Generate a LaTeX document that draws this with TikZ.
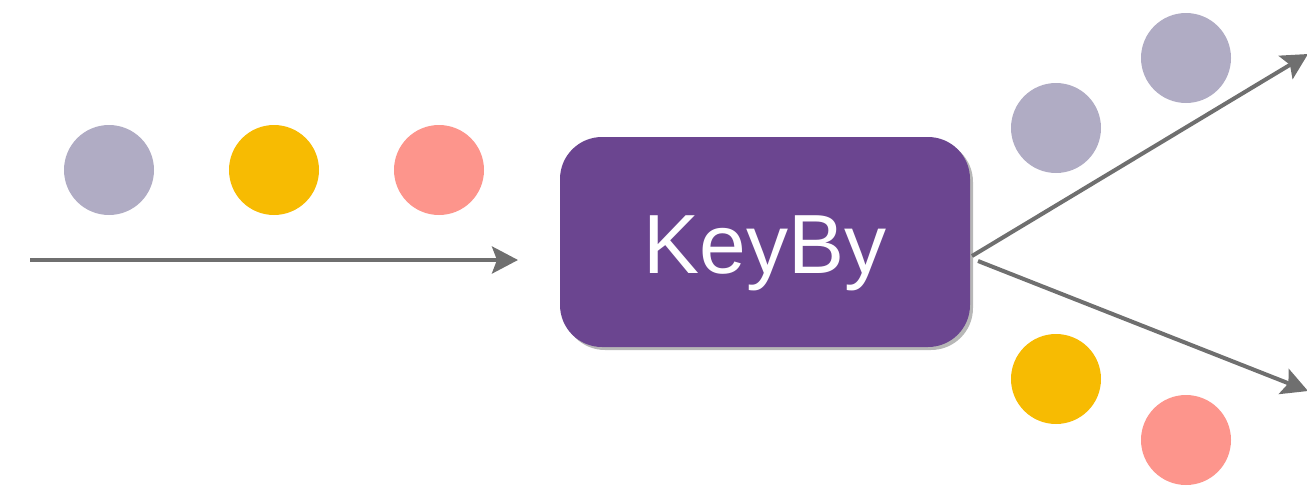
\documentclass[tikz,border=0pt]{standalone}
\usepackage{fontspec}
\setmainfont{Liberation Sans}
\usetikzlibrary{arrows.meta,shadows}
\definecolor{dotlilac}{HTML}{B0ACC4}
\definecolor{dotyellow}{HTML}{F7BB02}
\definecolor{dotpink}{HTML}{FD958C}
\definecolor{opviolet}{HTML}{6B4590}
\definecolor{flowgray}{HTML}{6F6F6F}
\tikzset{
  dot/.style={circle, minimum size=90pt, inner sep=0pt, fill=#1},
  opbox/.style={rounded corners=42pt, fill=opviolet, minimum width=410pt,
    minimum height=210pt, inner sep=0pt, text=white,
    font=\fontsize{84}{90}\selectfont,
    drop shadow={shadow xshift=3pt, shadow yshift=-3pt, opacity=0.4, fill=black!70}},
  flow/.style={draw=flowgray, line width=4pt,
    -{Stealth[length=26pt, width=27pt, inset=5pt]}}
}
\begin{document}
\begin{tikzpicture}[x=1pt, y=1pt]
  \useasboundingbox (0,0) rectangle (1307,-485);
  % incoming stream of records
  \node[dot=dotlilac]  (inA) at (109,-170) {};
  \node[dot=dotyellow] (inB) at (274,-170) {};
  \node[dot=dotpink]   (inC) at (439,-170) {};
  % the partitioning operator (label baseline placed explicitly)
  \node[opbox] (key) at (765,-242) {\raisebox{-31pt}[0pt][0pt]{KeyBy}};
  % outgoing partitions
  \node[dot=dotlilac]  (upA) at (1056,-128) {};
  \node[dot=dotlilac]  (upB) at (1186,-58) {};
  \node[dot=dotyellow] (loA) at (1056,-379) {};
  \node[dot=dotpink]   (loB) at (1186,-440) {};
  % arrow end points
  \coordinate (srcL) at (30,-260);
  \coordinate (dstL) at (518,-260);
  \coordinate (outU) at (972,-256);
  \coordinate (outL) at (978,-261);
  \coordinate (dstU) at (1308,-54);
  \coordinate (dstD) at (1308,-391);
  \draw[flow] (srcL) -- (dstL);
  \draw[flow] (outU) -- (dstU);
  \draw[flow] (outL) -- (dstD);
\end{tikzpicture}
\end{document}
